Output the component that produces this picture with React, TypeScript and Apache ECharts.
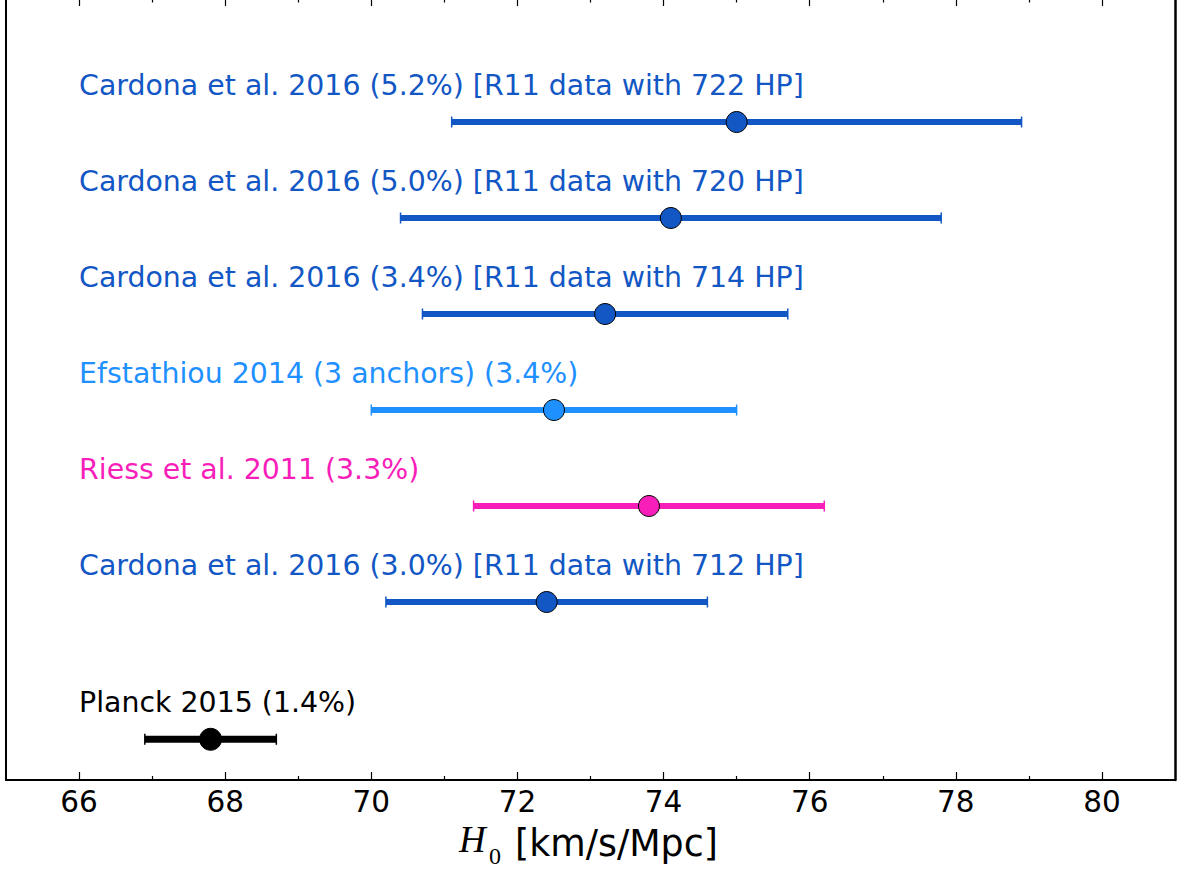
import React, { useEffect, useRef } from "react";
import * as echarts from "echarts";

const labels = [
  "Cardona et al. 2016 (5.2%) [R11 data with 722 HP]",
  "Cardona et al. 2016 (5.0%) [R11 data with 720 HP]",
  "Cardona et al. 2016 (3.4%) [R11 data with 714 HP]",
  "Efstathiou 2014 (3 anchors) (3.4%)",
  "Riess et al. 2011 (3.3%)",
  "Cardona et al. 2016 (3.0%) [R11 data with 712 HP]",
  "Planck 2015 (1.4%)",
];
const centers = [75.0, 74.1, 73.2, 72.5, 73.8, 72.4, 67.8];
const errors = [3.9, 3.7, 2.5, 2.5, 2.4, 2.2, 0.9];
const rowY = [6, 5, 4, 3, 2, 1, -0.43];
const colors = ["#1257C4", "#1257C4", "#1257C4", "#1E90FF", "#F81EB9", "#1257C4", "#000000"];
const xTicks = [66, 68, 70, 72, 74, 76, 78, 80];
const xMinor = [67, 69, 71, 73, 75, 77, 79];
const labelAnchorX = 66;

export default function App() {
  const ref = useRef<HTMLDivElement>(null);
  useEffect(() => {
    if (!ref.current) return;
    const chart = echarts.init(ref.current, null, { renderer: "svg" });
    const font = "DejaVu Sans";
    const baseX = {
      type: "value",
      min: 65,
      max: 81,
      splitLine: { show: false },
    };
    const yMin = -0.854;
    const yMax = yMin + 780 / 96;
    const option: any = {
      animation: false,
      grid: { left: 6, right: 7, top: 0, bottom: 90 },
      xAxis: [
        {
          ...baseX,
          position: "bottom",
          axisLine: { show: true, onZero: false, lineStyle: { color: "#000", width: 2 } },
          axisTick: { show: true, inside: true, length: 8, customValues: xTicks, lineStyle: { color: "#000", width: 1.2 } },
          axisLabel: { show: true, customValues: xTicks, fontSize: 29.5, color: "#000", fontFamily: font, margin: 7 },
        },
        {
          ...baseX,
          position: "bottom",
          axisLine: { show: false, onZero: false },
          axisTick: { show: true, inside: true, length: 4, customValues: xMinor, lineStyle: { color: "#000", width: 1.2 } },
          axisLabel: { show: false },
        },
        {
          ...baseX,
          position: "top",
          axisLine: { show: false, onZero: false },
          axisTick: { show: true, inside: true, length: 6, customValues: xTicks, lineStyle: { color: "#000", width: 1.2 } },
          axisLabel: { show: false },
        },
        {
          ...baseX,
          position: "top",
          axisLine: { show: false, onZero: false },
          axisTick: { show: true, inside: true, length: 2.5, customValues: xMinor, lineStyle: { color: "#000", width: 1.2 } },
          axisLabel: { show: false },
        },
      ],
      yAxis: [
        {
          type: "value",
          min: yMin,
          max: yMax,
          position: "left",
          axisLine: { show: true, onZero: false, lineStyle: { color: "#000", width: 2 } },
          axisTick: { show: false },
          axisLabel: { show: false },
          splitLine: { show: false },
        },
        {
          type: "value",
          min: yMin,
          max: yMax,
          position: "right",
          axisLine: { show: true, onZero: false, lineStyle: { color: "#000", width: 2.5 } },
          axisTick: { show: false },
          axisLabel: { show: false },
          splitLine: { show: false },
        },
      ],
      series: [
        {
          type: "custom",
          xAxisIndex: 0,
          yAxisIndex: 0,
          z: 2,
          encode: { x: [0, 1], y: 2 },
          data: centers.map((c, i) => [c - errors[i], c + errors[i], rowY[i]]),
          renderItem: (params: any, api: any) => {
            const i = params.dataIndex;
            const y = api.value(2);
            const p1 = api.coord([api.value(0), y]);
            const p2 = api.coord([api.value(1), y]);
            const lab = api.coord([labelAnchorX, y]);
            const color = colors[i];
            const lw = i === 6 ? 7 : 6;
            return {
              type: "group",
              children: [
                { type: "line", shape: { x1: p1[0], y1: p1[1], x2: p2[0], y2: p2[1] }, style: { stroke: color, lineWidth: lw } },
                { type: "line", shape: { x1: p1[0], y1: p1[1] - 5.5, x2: p1[0], y2: p1[1] + 5.5 }, style: { stroke: color, lineWidth: 1.5 } },
                { type: "line", shape: { x1: p2[0], y1: p2[1] - 5.5, x2: p2[0], y2: p2[1] + 5.5 }, style: { stroke: color, lineWidth: 1.5 } },
                {
                  type: "text",
                  x: lab[0],
                  y: lab[1] - 37,
                  style: { text: labels[i], fill: color, fontSize: 28.4, fontFamily: font, align: "left", verticalAlign: "middle" },
                },
              ],
            };
          },
        },
        {
          type: "scatter",
          xAxisIndex: 0,
          yAxisIndex: 0,
          z: 5,
          symbol: "circle",
          data: centers.map((c, i) => ({
            value: [c, rowY[i]],
            symbolSize: i === 6 ? 22 : 21,
            itemStyle: { color: colors[i], borderColor: "#000", borderWidth: 1, opacity: 1 },
          })),
        },
      ],
      graphic: [
        { type: "text", x: 459, y: 839, style: { text: "H", fontSize: 37, fontStyle: "italic", fontFamily: "Liberation Serif", fill: "#000", align: "left", verticalAlign: "middle" } },
        { type: "text", x: 489, y: 856, style: { text: "0", fontSize: 24, fontFamily: "Liberation Serif", fill: "#000", align: "left", verticalAlign: "middle" } },
        { type: "text", x: 515, y: 843, style: { text: "[km/s/Mpc]", fontSize: 36.4, fontFamily: font, fill: "#000", align: "left", verticalAlign: "middle" } },
      ],
    };
    chart.setOption(option);
    return () => chart.dispose();
  }, []);
  return (
    <div
      ref={ref}
      style={{ position: "absolute", left: 0, top: 0, width: 1182, height: 870, background: "#fff" }}
    />
  );
}
